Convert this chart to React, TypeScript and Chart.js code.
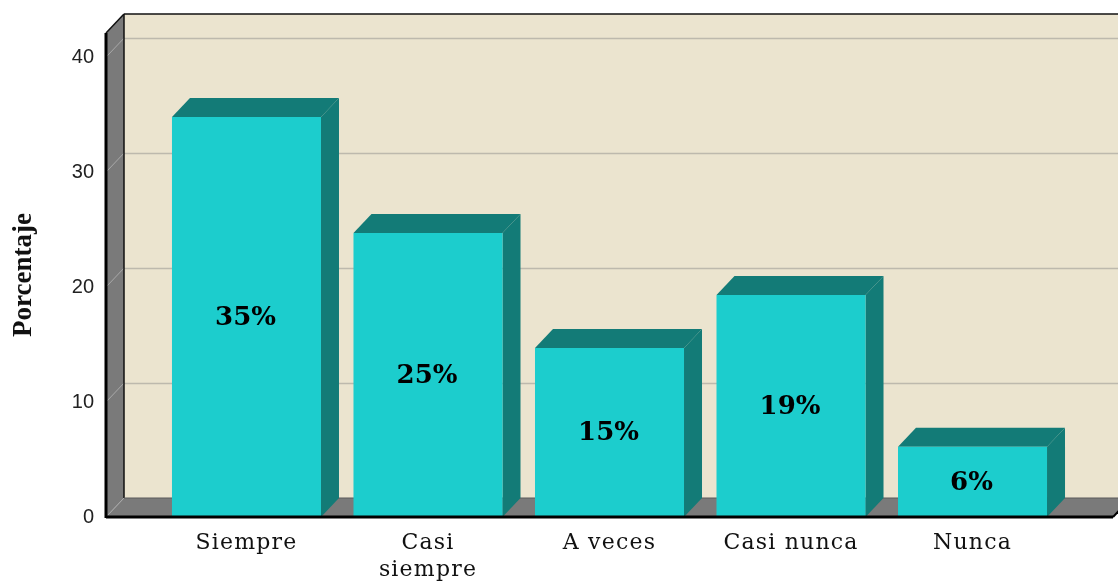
import React, { useEffect, useRef } from "react";
import { Chart, registerables } from "chart.js";

Chart.register(...registerables);

const categories: (string | string[])[] = ["Siempre", ["Casi", "siempre"], "A veces", "Casi nunca", "Nunca"];
const percentages = [34.8, 24.7, 14.7, 19.3, 6.1];
const valueLabels = ["35%", "25%", "15%", "19%", "6%"];
const yTicks = [0, 10, 20, 30, 40];
const yTitle = "Porcentaje";

const DX = 18;
const DY = 19;
const WALL = "#ebe4cf";
const GRID = "#bdb9ad";
const SIDE_GRAY = "#7a7a7a";
const BAR_FRONT = "#1ccdcd";
const BAR_DARK = "#137b77";

function poly(ctx: CanvasRenderingContext2D, pts: number[][], fill: string) {
  ctx.beginPath();
  ctx.moveTo(pts[0][0], pts[0][1]);
  for (let i = 1; i < pts.length; i++) ctx.lineTo(pts[i][0], pts[i][1]);
  ctx.closePath();
  ctx.fillStyle = fill;
  ctx.fill();
}

function line(ctx: CanvasRenderingContext2D, x1: number, y1: number, x2: number, y2: number, color: string, w: number) {
  ctx.beginPath();
  ctx.moveTo(x1, y1);
  ctx.lineTo(x2, y2);
  ctx.strokeStyle = color;
  ctx.lineWidth = w;
  ctx.stroke();
}

const threeD = {
  id: "threeD",
  beforeDraw(chart: any) {
    const sx = chart.scales.x;
    if (sx && !sx.__patched) {
      const orig = sx.drawLabels;
      sx.drawLabels = function (area: any) {
        const c = this.ctx;
        c.save();
        c.letterSpacing = "1.2px";
        orig.call(this, area);
        c.restore();
      };
      sx.__patched = true;
    }
  },
  beforeDatasetsDraw(chart: any) {
    const { ctx, chartArea: a, scales } = chart;
    const y = scales.y;
    ctx.save();
    // back wall
    poly(ctx, [[a.left + DX, a.top - DY], [a.right + DX, a.top - DY], [a.right + DX, a.bottom - DY], [a.left + DX, a.bottom - DY]], WALL);
    // back grid lines
    yTicks.forEach((v) => {
      if (v === 0) return;
      const yy = Math.round(y.getPixelForValue(v) - DY) + 0.5;
      line(ctx, a.left + DX, yy, a.right + DX, yy, GRID, 1.5);
    });
    // left wall
    poly(ctx, [[a.left, a.top], [a.left + DX, a.top - DY], [a.left + DX, a.bottom - DY], [a.left, a.bottom]], SIDE_GRAY);
    yTicks.forEach((v) => {
      if (v === 0) return;
      const yy = y.getPixelForValue(v);
      line(ctx, a.left, yy, a.left + DX, yy - DY, "#a9a9a9", 1);
    });
    // floor
    poly(ctx, [[a.left, a.bottom], [a.right, a.bottom], [a.right + DX, a.bottom - DY], [a.left + DX, a.bottom - DY]], SIDE_GRAY);
    line(ctx, a.left, a.bottom, a.left + DX, a.bottom - DY, "#a9a9a9", 1);
    // wall edges
    line(ctx, a.left + DX, a.top - DY, a.left + DX, a.bottom - DY, "#111", 1.5);
    line(ctx, a.left + DX, a.bottom - DY, a.right + DX, a.bottom - DY, "#5a5a5a", 1);
    line(ctx, a.left + DX, a.top - DY, a.right + DX, a.top - DY, "#111", 1.5);
    line(ctx, a.left, a.top, a.left + DX, a.top - DY, "#111", 1.5);
    // bar tops and sides
    const meta = chart.getDatasetMeta(0);
    meta.data.forEach((bar: any) => {
      const p = bar.getProps(["x", "y", "base", "width"], true);
      const l = p.x - p.width / 2;
      const r = p.x + p.width / 2;
      poly(ctx, [[l, p.y], [r, p.y], [r + DX, p.y - DY], [l + DX, p.y - DY]], BAR_DARK);
      poly(ctx, [[r, p.y], [r + DX, p.y - DY], [r + DX, p.base - DY], [r, p.base]], BAR_DARK);
    });
    ctx.restore();
  },
  afterDatasetsDraw(chart: any) {
    const { ctx, chartArea: a } = chart;
    ctx.save();
    const meta = chart.getDatasetMeta(0);
    ctx.font = "bold 26px 'DejaVu Serif'";
    ctx.fillStyle = "#000";
    ctx.textAlign = "center";
    ctx.textBaseline = "middle";
    meta.data.forEach((bar: any, i: number) => {
      const p = bar.getProps(["x", "y", "base"], true);
      ctx.fillText(valueLabels[i], p.x - 1, (p.y + p.base) / 2 + 1);
    });
    // front edges
    line(ctx, a.left, a.top, a.left, a.bottom + 1, "#000", 3);
    line(ctx, a.left, a.bottom, a.right, a.bottom, "#000", 3);
    line(ctx, a.right, a.bottom, a.right + DX, a.bottom - DY, "#000", 2);
    ctx.restore();
  },
};

export default function App() {
  const ref = useRef<HTMLCanvasElement | null>(null);
  useEffect(() => {
    if (!ref.current) return;
    const chart = new Chart(ref.current, {
      type: "bar",
      data: {
        datasets: [
          {
            data: percentages.map((v, i) => ({ x: i, y: v })),
            backgroundColor: BAR_FRONT,
            borderWidth: 0,
            barPercentage: 0.821,
            categoryPercentage: 1,
          },
        ],
      },
      options: {
        animation: false,
        responsive: false,
        layout: { padding: { top: 33, right: 5, left: 0, bottom: 0 } },
        plugins: { legend: { display: false }, tooltip: { enabled: false } },
        scales: {
          x: {
            type: "linear",
            offset: false,
            min: -0.774,
            max: 4.774,
            afterBuildTicks: (s: any) => {
              s.ticks = categories.map((_, i) => ({ value: i }));
            },
            afterFit: (s: any) => {
              s.height = 66;
            },
            ticks: {
              callback: (_v: any, i: number) => categories[i] as any,
              font: { family: "'DejaVu Serif'", size: 22, lineHeight: 1.23 },
              color: "#111",
              padding: 13,
              maxRotation: 0,
              autoSkip: false,
            },
            grid: { display: false, drawTicks: false, offset: false },
            border: { display: false },
          },
          y: {
            min: 0,
            max: 42.1,
            afterBuildTicks: (s: any) => {
              s.ticks = yTicks.map((v) => ({ value: v }));
            },
            afterFit: (s: any) => {
              s.width = 106;
            },
            ticks: {
              font: { family: "'Liberation Sans'", size: 20 },
              color: "#222",
              padding: 12,
            },
            grid: { display: false, drawTicks: false },
            border: { display: false },
            title: {
              display: true,
              text: yTitle,
              font: { family: "'Liberation Serif'", size: 27, weight: "bold" },
              color: "#111",
              padding: { top: 8, bottom: 0 },
            },
          },
        },
      },
      plugins: [threeD],
    } as any);
    return () => chart.destroy();
  }, []);
  return (
    <div style={{ position: "absolute", left: 0, top: 0, width: 1118, height: 583, background: "#fff" }}>
      <canvas ref={ref} width={1118} height={583} />
    </div>
  );
}
